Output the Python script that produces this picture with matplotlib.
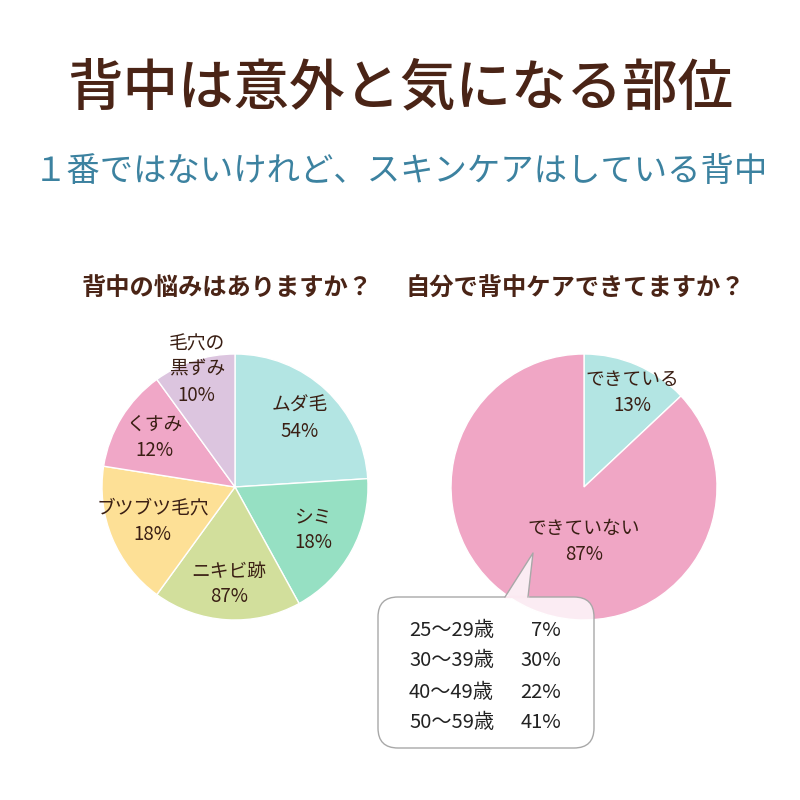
import matplotlib.pyplot as plt
from matplotlib.patches import FancyBboxPatch, Polygon
import numpy as np

plt.rcParams['font.family'] = ['Noto Sans CJK JP', 'DejaVu Sans']

TITLE = '背中は意外と気になる部位'
SUBTITLE = '１番ではないけれど、スキンケアはしている背中'

worry_labels = ['ムダ毛', 'シミ', 'ニキビ跡', 'ブツブツ毛穴', 'くすみ', '毛穴の\n黒ずみ']
worry_texts = ['54%', '18%', '87%', '18%', '12%', '10%']
worry_shares = [24, 18, 18, 17.5, 12.5, 10]

# right pie: doing back care yourself
care_labels = ['できている', 'できていない']
care_values = [13, 87]

# age breakdown in the callout
age_groups = ['25〜29歳', '30〜39歳', '40〜49歳', '50〜59歳']
age_values = [7, 30, 22, 41]

BROWN = '#4a2416'
TEXT = '#3a1f14'
worry_colors = ['#b3e5e3', '#96e0c3', '#d2df9c', '#fde096', '#f0a7c7', '#dcc5df']
care_colors = ['#b3e5e3', '#f0a6c5']

fig = plt.figure(figsize=(8, 8), dpi=100)
ax = fig.add_axes([0, 0, 1, 1])


def py(y):
    # pixel row -> data y
    return 800 - y


R = 133


def label_pos(w, frac, ang=None):
    cx, cy = w.center
    if ang is None:
        ang = (w.theta1 + w.theta2) / 2
    a = np.deg2rad(ang)
    return cx + frac * w.r * np.cos(a), cy + frac * w.r * np.sin(a)


# left pie
wedges, _ = ax.pie(worry_shares, colors=worry_colors, startangle=90,
                   counterclock=False, center=(235, py(487)), radius=R,
                   wedgeprops=dict(edgecolor='white', linewidth=1))
# right pie
wedges2, _ = ax.pie(care_values, colors=care_colors, startangle=90,
                    counterclock=False, center=(584, py(487)), radius=R,
                    wedgeprops=dict(edgecolor='white', linewidth=1))

ax.set_xlim(0, 800)
ax.set_ylim(0, 800)
ax.set_aspect('equal')
ax.axis('off')

ax.text(400, py(88), TITLE, ha='center', va='center', fontsize=40,
        fontweight='medium', color=BROWN)
ax.text(401, py(172), SUBTITLE, ha='center', va='center', fontsize=24,
        color='#3c82a0')
ax.text(227, py(288), '背中の悩みはありますか？', ha='center', va='center',
        fontsize=17.5, fontweight='bold', color=BROWN)
ax.text(575, py(288), '自分で背中ケアできてますか？', ha='center', va='center',
        fontsize=17.5, fontweight='bold', color=BROWN)

fracs = [0.71, 0.67, 0.73, 0.67, 0.71, 0.93]
for w, lab, txt, f in zip(wedges, worry_labels, worry_texts, fracs):
    x, y = label_pos(w, f)
    ax.text(x, y, lab + '\n' + txt, ha='center', va='center', fontsize=13.5,
            color=TEXT, linespacing=1.3)

x, y = label_pos(wedges2[0], 0.8, 63)
ax.text(x, y, f'{care_labels[0]}\n{care_values[0]}%', ha='center', va='center',
        fontsize=13.5, color=TEXT, linespacing=1.3)
x, y = label_pos(wedges2[1], 0.41, -90)
ax.text(x, y, f'{care_labels[1]}\n{care_values[1]}%', ha='center', va='center',
        fontsize=13.5, color=TEXT, linespacing=1.3)

# callout box with tail
box = FancyBboxPatch((378, py(748)), 216, 151,
                     boxstyle='round,pad=0,rounding_size=20',
                     facecolor='white', edgecolor='none', alpha=0.8, zorder=3)
ax.add_patch(box)
tail = Polygon([(505, py(597.5)), (533, py(553)), (528, py(597.5))],
               closed=True, facecolor='white', edgecolor='none', alpha=0.8,
               zorder=3)
ax.add_patch(tail)
outline = FancyBboxPatch((378, py(748)), 216, 151,
                         boxstyle='round,pad=0,rounding_size=20',
                         facecolor='none', edgecolor='#a8a8a8', linewidth=1,
                         zorder=4)
ax.add_patch(outline)
# hide outline under the tail opening, then draw tail edges
ax.plot([505.5, 527.5], [py(597), py(597)], color='#fbe9f1', lw=1.6, zorder=4.5)
ax.plot([505, 533, 528], [py(597), py(553), py(597)], color='#a8a8a8', lw=1,
        zorder=5)

row_y = [631, 661, 692, 722]
for g, v, ry in zip(age_groups, age_values, row_y):
    ax.text(409, py(ry), g, ha='left', va='center', fontsize=14.5,
            color='#222222', zorder=6)
    ax.text(561, py(ry), f'{v}%', ha='right', va='center', fontsize=14.5,
            color='#222222', zorder=6)

fig.savefig('out.png', dpi=100, facecolor='white')
